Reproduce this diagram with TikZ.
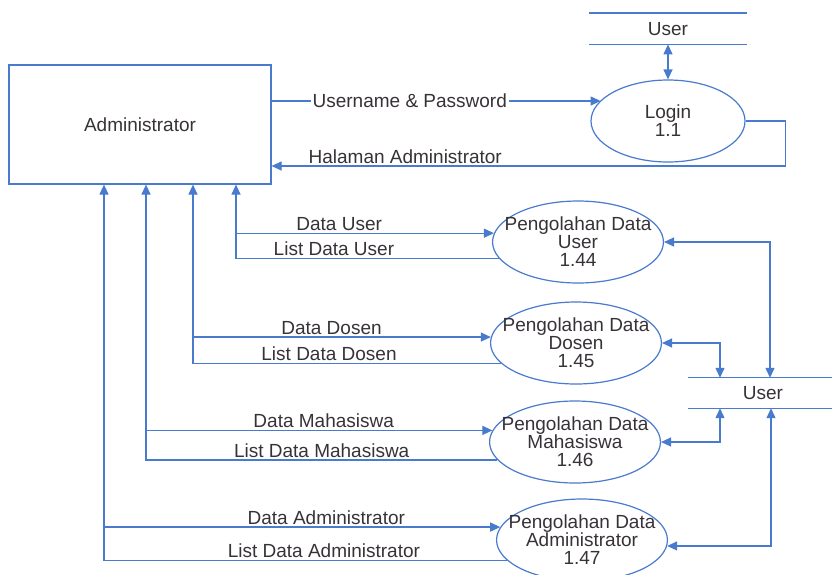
\documentclass[tikz,border=0pt]{standalone}
\usepackage{fontspec}
\setmainfont{Liberation Sans}
\usepackage{xcolor}
\usepackage{tikz}
\usetikzlibrary{positioning,shapes.geometric,arrows.meta}
\definecolor{dfdblue}{RGB}{72,122,205}
\definecolor{dfdtext}{RGB}{55,50,55}

\begin{document}
\begin{tikzpicture}[x=1pt, y=-1pt,
  font=\fontsize{19}{18}\selectfont, text=dfdtext,
  >={Triangle[length=10pt,width=9pt]},
  entity/.style={draw=dfdblue, line width=1.2pt, minimum width=262pt, minimum height=119pt, inner sep=0pt},
  proc/.style={ellipse, draw=dfdblue, line width=1.2pt, minimum width=166pt, minimum height=82pt, inner xsep=-13pt, inner ysep=1pt, align=center},
  store/.style={minimum width=157pt, minimum height=31pt, inner sep=0pt},
  storeline/.style={draw=dfdblue, line width=1.2pt},
  flow/.style={draw=dfdblue, line width=1.2pt, ->},
  flow2/.style={flow, <->},
  lbl/.style={above, inner sep=2pt}]

\useasboundingbox (0,0) rectangle (832,574);

% nodes %
\node[entity] (admin) at (140,124.5) {Administrator};
\node[proc, minimum width=154pt] (login) at (668,121) {Login\\1.1};
\node[store, above = 35pt of login] (ustore) {User};
\node[proc] (pu) at (578,242) {Pengolahan Data\\User\\1.44};
\node[proc] (pd) at (576,343) {Pengolahan Data\\Dosen\\1.45};
\node[proc] (pm) at (575,442) {Pengolahan Data\\Mahasiswa\\1.46};
\node[proc] (pa) at (582,540) {Pengolahan Data\\Administrator\\1.47};
\node[store, minimum width=150pt, minimum height=30pt] (rstore) at (763,393) {User};

% store lines %
\draw[storeline] (ustore.north west) -- (ustore.north east) (ustore.south west) -- (ustore.south east);
\draw[storeline] (rstore.north west) -- (rstore.north east) (rstore.south west) -- (rstore.south east);

% buses under the box %
\coordinate (busU) at ([xshift=96pt]admin.south);
\coordinate (busD) at ([xshift=53pt]admin.south);
\coordinate (busM) at ([xshift=6pt]admin.south);
\coordinate (busA) at ([xshift=-36pt]admin.south);

% edges %

%Login%
\draw[flow] ([yshift=23.5pt]admin.east) -- node[pos=0.42, fill=white, inner sep=2pt] {Username \& Password} ([yshift=23.5pt]admin.east -| login.163);
\draw[flow] (login.east) -- ++(40,0) |- node[lbl, pos=0.87] {Halaman Administrator} ([yshift=-41.5pt]admin.east);
\draw[flow2] (ustore.south) -- (login.north);

%User%
\draw[flow] (busU |- pu.174) -- node[lbl, pos=0.4] {Data User} (pu.174);
\draw[flow] (pu.192) -| node[lbl, pos=0.314] {List Data User} (busU);

%Dosen%
\draw[flow] (busD |- pd.176) -- node[lbl, pos=0.465] {Data Dosen} (pd.176);
\draw[flow] (pd.195) -| node[lbl, pos=0.279] {List Data Dosen} (busD);

%Mahasiswa%
\draw[flow] (busM |- pm.172) -- node[lbl, pos=0.513] {Data Mahasiswa} (pm.172);
\draw[flow] (pm.193) -| node[lbl, pos=0.25] {List Data Mahasiswa} (busM);

%Administrator%
\draw[flow] (busA |- pa.171) -- node[lbl, pos=0.561] {Data Administrator} (pa.171);
\draw[flow] (pa.195) -| node[lbl, pos=0.227] {List Data Administrator} (busA);

%User store%
\draw[flow2] (pu.east) -| ([xshift=7pt]rstore.north);
\draw[flow2] (pd.east) -| ([xshift=-43pt]rstore.north);
\draw[flow2] (pm.east) -| ([xshift=-43pt]rstore.south);
\draw[flow2] (pa.-4) -| ([xshift=8pt]rstore.south);

\end{tikzpicture}
\end{document}
